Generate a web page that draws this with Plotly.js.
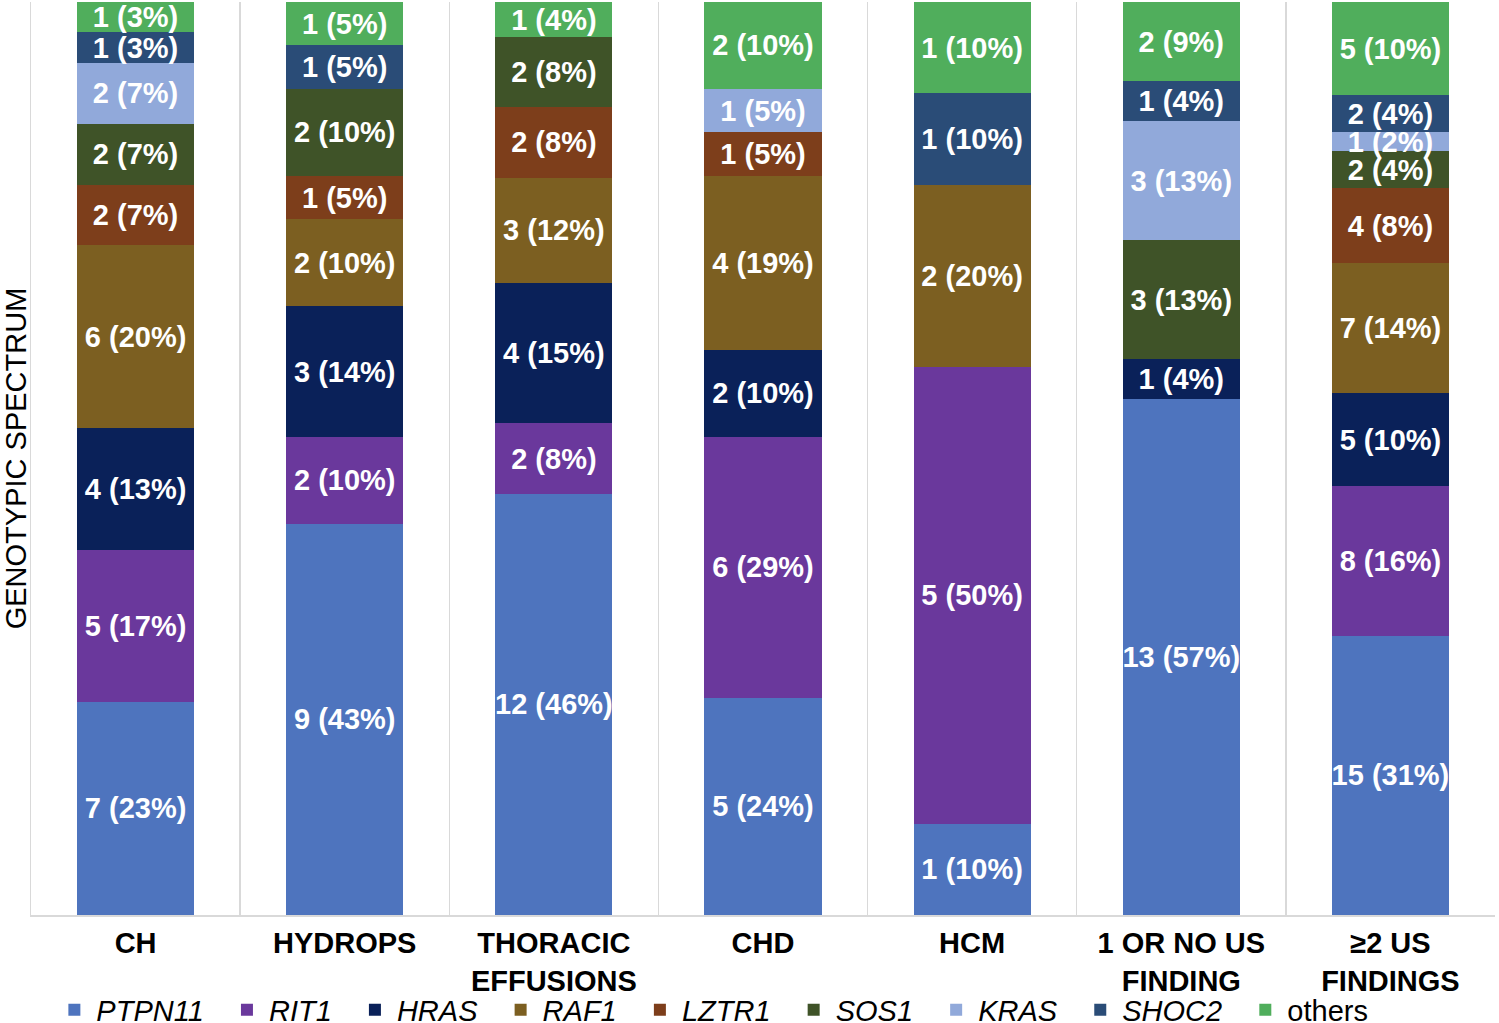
<!DOCTYPE html>
<html>
<head>
<meta charset="utf-8">
<script src="https://cdn.plot.ly/plotly-3.0.1.min.js"></script>
<style>
  html, body { margin: 0; padding: 0; background: #fff; }
  #chart { width: 1499px; height: 1023px; }
</style>
</head>
<body>
<div id="chart"></div>
<script>
// Genotype spectrum per prenatal finding (counts; bars are normalised to 100%)
const categories = ['CH', 'HYDROPS', 'THORACIC<br>EFFUSIONS', 'CHD', 'HCM', '1 OR NO US<br>FINDING', '\u22652 US<br>FINDINGS'];

const genes = ['PTPN11', 'RIT1', 'HRAS', 'RAF1', 'LZTR1', 'SOS1', 'KRAS', 'SHOC2', 'others'];

const ptpn11 = [7, 9, 12, 5, 1, 13, 15];
const rit1   = [5, 2, 2, 6, 5, 0, 8];
const hras   = [4, 3, 4, 2, 0, 1, 5];
const raf1   = [6, 2, 3, 4, 2, 0, 7];
const lztr1  = [2, 1, 2, 1, 0, 0, 4];
const sos1   = [2, 2, 2, 0, 0, 3, 2];
const kras   = [2, 0, 0, 1, 0, 3, 1];
const shoc2  = [1, 1, 0, 0, 1, 1, 2];
const others = [1, 1, 1, 2, 1, 2, 5];

const colors = ['#4E74BE', '#6A389C', '#0A2159', '#7C5F21', '#7D3E1B', '#3F5328', '#91A9DA', '#2A4C77', '#50AE5C'];

const series = [ptpn11, rit1, hras, raf1, lztr1, sos1, kras, shoc2, others];

// column totals for the "n (x%)" labels
const totals = categories.map(function(_, i) {
    return series.reduce(function(sum, s) { return sum + s[i]; }, 0);
});

const FONT = 'Liberation Sans, Arial, sans-serif';
const PAD = '\u00a0\u00a0';   // extra room between legend entries

const traces = series.map(function(values, k) {
    const last = k === series.length - 1;
    return {
        type: 'bar',
        name: (genes[k] === 'others' ? 'others' : '<i>' + genes[k] + '</i>') + (last ? '' : PAD),
        x: categories,
        y: values,
        marker: { color: colors[k], line: { width: 0 } },
        text: values.map(function(v, i) {
            return v ? v + ' (' + Math.round(100 * v / totals[i]) + '%)' : '';
        }),
        textposition: 'inside',
        insidetextanchor: 'middle',
        textangle: 0,
        constraintext: 'none',
        textfont: { family: FONT, size: 29, color: '#ffffff', weight: 'bold' },
        hoverinfo: 'skip'
    };
});

const layout = {
    width: 1499,
    height: 1023,
    margin: { t: 2, r: 4, b: 108, l: 31, autoexpand: false },
    paper_bgcolor: '#ffffff',
    plot_bgcolor: '#ffffff',
    barmode: 'stack',
    barnorm: 'percent',
    bargap: 0.44,
    font: { family: FONT, color: '#000000' },
    uniformtext: { mode: 'show', minsize: 29 },
    showlegend: true,
    legend: {
        orientation: 'h',
        traceorder: 'normal',
        bgcolor: 'rgba(0,0,0,0)',
        x: 0.0146,
        xanchor: 'left',
        y: -0.104,
        yanchor: 'middle',
        font: { family: FONT, size: 29, color: '#000000' },
        itemwidth: 34
    },
    xaxis: {
        type: 'category',
        tickson: 'boundaries',
        showgrid: true,
        gridcolor: '#D9D9D9',
        gridwidth: 1.5,
        showline: true,
        linecolor: '#D9D9D9',
        linewidth: 1.5,
        ticks: '',
        ticklabelstandoff: 2,
        tickfont: { family: FONT, size: 29, color: '#000000', weight: 'bold' },
        fixedrange: true
    },
    yaxis: {
        range: [0, 100],
        showgrid: false,
        zeroline: false,
        showticklabels: false,
        showline: true,
        linecolor: '#D9D9D9',
        linewidth: 1.5,
        ticks: '',
        title: {
            text: 'GENOTYPIC SPECTRUM',
            font: { family: FONT, size: 29, color: '#000000' },
            standoff: 0
        },
        fixedrange: true
    }
};

Plotly.newPlot('chart', traces, layout, { displayModeBar: false, staticPlot: true });
</script>
</body>
</html>
